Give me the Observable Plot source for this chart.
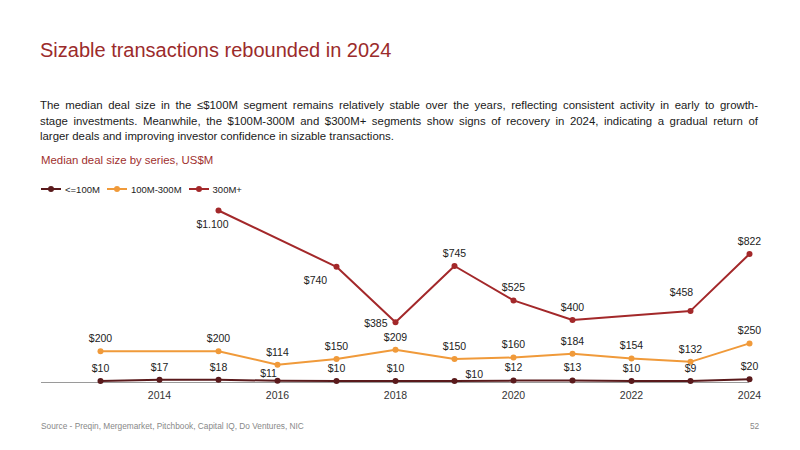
<!DOCTYPE html>
<html>
<head>
<meta charset="utf-8">
<script src="https://cdn.jsdelivr.net/npm/d3@7"></script>
<script src="https://cdn.jsdelivr.net/npm/@observablehq/plot@0.6"></script>
<style>
  html, body { margin: 0; padding: 0; background: #fff; }
  body { width: 800px; height: 450px; position: relative; overflow: hidden;
         font-family: "Liberation Sans", Arial, sans-serif; color: #1a1a1a; }
  .abs { position: absolute; }
  #title { left: 40px; top: 40px; font-size: 20px; line-height: 20px; color: #9b2b2b; white-space: nowrap; }
  #lead { left: 40px; top: 98px; width: 718px; font-size: 11.4px; line-height: 15.5px; }
  #lead span { display: block; text-align: justify; text-align-last: justify; white-space: nowrap; }
  #lead span.last { text-align-last: left; }
  #sub { left: 41px; top: 153px; font-size: 11.4px; line-height: 14px; color: #a0302e; white-space: nowrap; }
  #legend { left: 41px; top: 183px; height: 12px; display: flex; align-items: center; font-size: 9.5px; color: #222; }
  #legend .item { display: flex; align-items: center; margin-right: 7px; }
  #legend svg { margin-right: 4px; }
  #chart { left: 0; top: 200px; }
  #source { left: 41px; top: 421px; font-size: 8.3px; line-height: 10px; color: #888; white-space: nowrap; }
  #page { left: 750px; top: 421px; font-size: 8.3px; line-height: 10px; color: #888; }
</style>
</head>
<body>
<div id="title" class="abs">Sizable transactions rebounded in 2024</div>
<div id="lead" class="abs">
  <span>The median deal size in the ≤$100M segment remains relatively stable over the years, reflecting consistent activity in early to growth-</span>
  <span>stage investments. Meanwhile, the $100M-300M and $300M+ segments show signs of recovery in 2024, indicating a gradual return of</span>
  <span class="last">larger deals and improving investor confidence in sizable transactions.</span>
</div>
<div id="sub" class="abs">Median deal size by series, US$M</div>
<div id="legend" class="abs"></div>
<div id="chart" class="abs"></div>
<div id="source" class="abs">Source - Preqin, Mergemarket, Pitchbook, Capital IQ, Do Ventures, NIC</div>
<div id="page" class="abs">52</div>
<script>
// Years covered
const years = [2013, 2014, 2015, 2016, 2017, 2018, 2019, 2020, 2021, 2022, 2023, 2024];

// Median deal size per series, US$M (null = no reported value)
const small  = [10, 17, 18, 11, 10, 10, 10, 12, 13, 10, 9, 20];              // <=100M
const medium = [200, null, 200, 114, 150, 209, 150, 160, 184, 154, 132, 250]; // 100M-300M
const large  = [null, null, 1100, null, 740, 385, 745, 525, 400, null, 458, 822]; // 300M+

const seriesNames = ["<=100M", "100M-300M", "300M+"];
const seriesColors = ["#5a1a1c", "#f09a3a", "#a3282a"];
const xTicks = [2014, 2016, 2018, 2020, 2022, 2024];

// Label placement tweaks (pixel offsets) where the default "above" would collide
const labelOffsets = {
  "300M+": {
    2015: {dx: -6, dy: 14, anchor: "middle"},
    2017: {dx: -21, dy: 14, anchor: "middle"},
    2018: {dx: -8, dy: 1, anchor: "end"},
    2023: {dx: -9, dy: -18, anchor: "middle"}
  },
  "<=100M": {
    2016: {dx: -9, dy: -7, anchor: "middle"},
    2019: {dx: 11, dy: -6, anchor: "start"}
  }
};

const values = [small, medium, large];
const rows = [];
seriesNames.forEach((name, s) => {
  years.forEach((year, i) => {
    const v = values[s][i];
    if (v != null) rows.push({series: name, year, value: v});
  });
});

const fmt = v => "$" + d3.format(",")(v).replace(/,/g, ".");

// Build label records and group them by offset so each group is one text mark
const labelGroups = new Map();
for (const r of rows) {
  const o = (labelOffsets[r.series] || {})[r.year] || {dx: 0, dy: -12.5, anchor: "middle"};
  const key = `${o.dx}|${o.dy}|${o.anchor}`;
  if (!labelGroups.has(key)) labelGroups.set(key, {o, data: []});
  labelGroups.get(key).data.push(r);
}

const marks = [
  Plot.ruleY([0], {stroke: "#9a9a9a", strokeWidth: 1})
];
seriesNames.forEach((name, s) => {
  const data = rows.filter(r => r.series === name);
  marks.push(Plot.line(data, {x: "year", y: "value", stroke: seriesColors[s], strokeWidth: 2}));
  marks.push(Plot.dot(data, {x: "year", y: "value", r: 3, fill: seriesColors[s], stroke: "none"}));
});
for (const {o, data} of labelGroups.values()) {
  marks.push(Plot.text(data, {
    x: "year", y: "value", text: d => fmt(d.value),
    dx: o.dx, dy: o.dy, textAnchor: o.anchor,
    fill: "#222", fontSize: 10.5
  }));
}

const chart = Plot.plot({
  width: 800,
  height: 210,
  marginLeft: 41,
  marginRight: 51,
  marginTop: 10,
  marginBottom: 28,
  style: {fontFamily: "Liberation Sans, Arial, sans-serif", fontSize: "10.5px", color: "#333", background: "transparent"},
  x: {type: "linear", domain: [2012, 2024], ticks: xTicks, tickFormat: d => String(d), tickSize: 0, tickPadding: 9, label: null},
  y: {domain: [0, 1100], axis: null},
  marks
});
document.getElementById("chart").appendChild(chart);

// Legend: line-with-dot swatch per series
const legend = document.getElementById("legend");
seriesNames.forEach((name, s) => {
  const item = document.createElement("div");
  item.className = "item";
  item.innerHTML = `<svg width="20" height="8"><line x1="0" y1="4" x2="20" y2="4" stroke="${seriesColors[s]}" stroke-width="2"/><circle cx="10" cy="4" r="3" fill="${seriesColors[s]}"/></svg>`;
  const label = document.createElement("span");
  label.textContent = name;
  item.appendChild(label);
  legend.appendChild(item);
});
</script>
</body>
</html>
